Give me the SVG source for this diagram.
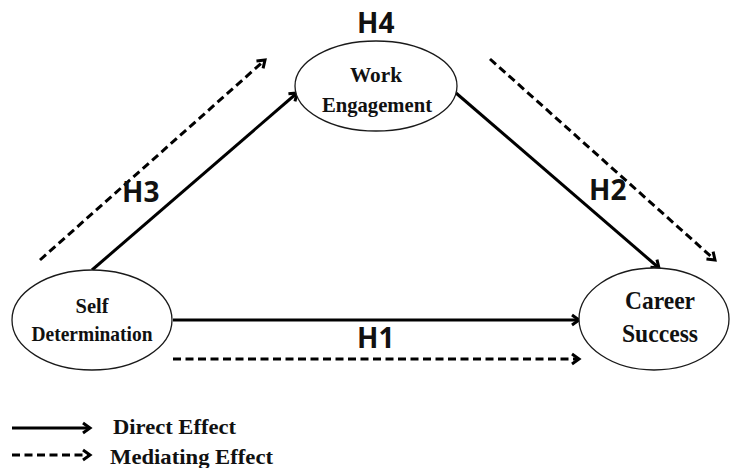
<svg xmlns="http://www.w3.org/2000/svg" width="730" height="468" viewBox="0 0 730 468">
<style>
.node ellipse{fill:#fff;stroke:#1a1a1a;stroke-width:1.3}
.nt{font-family:"Liberation Serif","Times New Roman",serif;font-weight:bold;fill:#111;text-anchor:middle}
.h{font-family:"Open Sans","Liberation Sans",sans-serif;font-weight:bold;font-size:28px;fill:#111}
.solid{stroke:#000;stroke-width:3;fill:none;marker-end:url(#ah)}
.dash{stroke:#000;stroke-width:3;fill:none;stroke-dasharray:8 4.5;marker-end:url(#ah)}
.lg{font-family:"Liberation Serif","Times New Roman",serif;font-weight:bold;font-size:22px;fill:#111}
</style>
<defs>
<marker id="ah" markerUnits="userSpaceOnUse" markerWidth="16" markerHeight="16" refX="11" refY="7" orient="auto">
<path d="M4,2 L11,7 L4,12" fill="none" stroke="#000" stroke-width="3"/>
</marker>
</defs>
<g id="connectors">
<line class="solid" x1="173" y1="320" x2="579" y2="320"/>
<line class="dash" x1="173" y1="359" x2="579" y2="359"/>
<line class="solid" x1="92" y1="270" x2="297" y2="93"/>
<line class="dash" x1="40" y1="260" x2="265" y2="60"/>
<line class="solid" x1="456" y1="93" x2="659" y2="268"/>
<line class="dash" x1="490" y1="59" x2="715" y2="260"/>
</g>
<g id="labels">
<text class="h" x="357" y="33">H4</text>
<text class="h" x="122" y="202">H3</text>
<text class="h" x="589" y="200">H2</text>
<text class="h" x="357" y="348">H1</text>
</g>
<g id="work-engagement" class="node">
<ellipse cx="376" cy="86" rx="81" ry="45"/>
<text class="nt" x="376" y="82" font-size="22" textLength="52" lengthAdjust="spacingAndGlyphs">Work</text>
<text class="nt" x="377" y="112" font-size="22" textLength="110" lengthAdjust="spacingAndGlyphs">Engagement</text>
</g>
<g id="self-determination" class="node">
<ellipse cx="92" cy="320" rx="80" ry="50"/>
<text class="nt" x="92" y="313" font-size="22" textLength="33" lengthAdjust="spacingAndGlyphs">Self</text>
<text class="nt" x="92" y="341" font-size="22" textLength="121" lengthAdjust="spacingAndGlyphs">Determination</text>
</g>
<g id="career-success" class="node">
<ellipse cx="654" cy="319" rx="75" ry="51"/>
<text class="nt" x="660" y="309" font-size="25" textLength="70" lengthAdjust="spacingAndGlyphs">Career</text>
<text class="nt" x="660" y="342" font-size="25" textLength="76" lengthAdjust="spacingAndGlyphs">Success</text>
</g>
<g id="legend">
<line class="solid" x1="12" y1="428" x2="90" y2="428" stroke-width="3.5"/>
<line class="dash" x1="12" y1="455" x2="90" y2="455" stroke-width="3.5"/>
<text class="lg" x="113" y="434" textLength="123" lengthAdjust="spacingAndGlyphs">Direct Effect</text>
<text class="lg" x="110" y="464" textLength="163" lengthAdjust="spacingAndGlyphs">Mediating Effect</text>
</g>
</svg>
